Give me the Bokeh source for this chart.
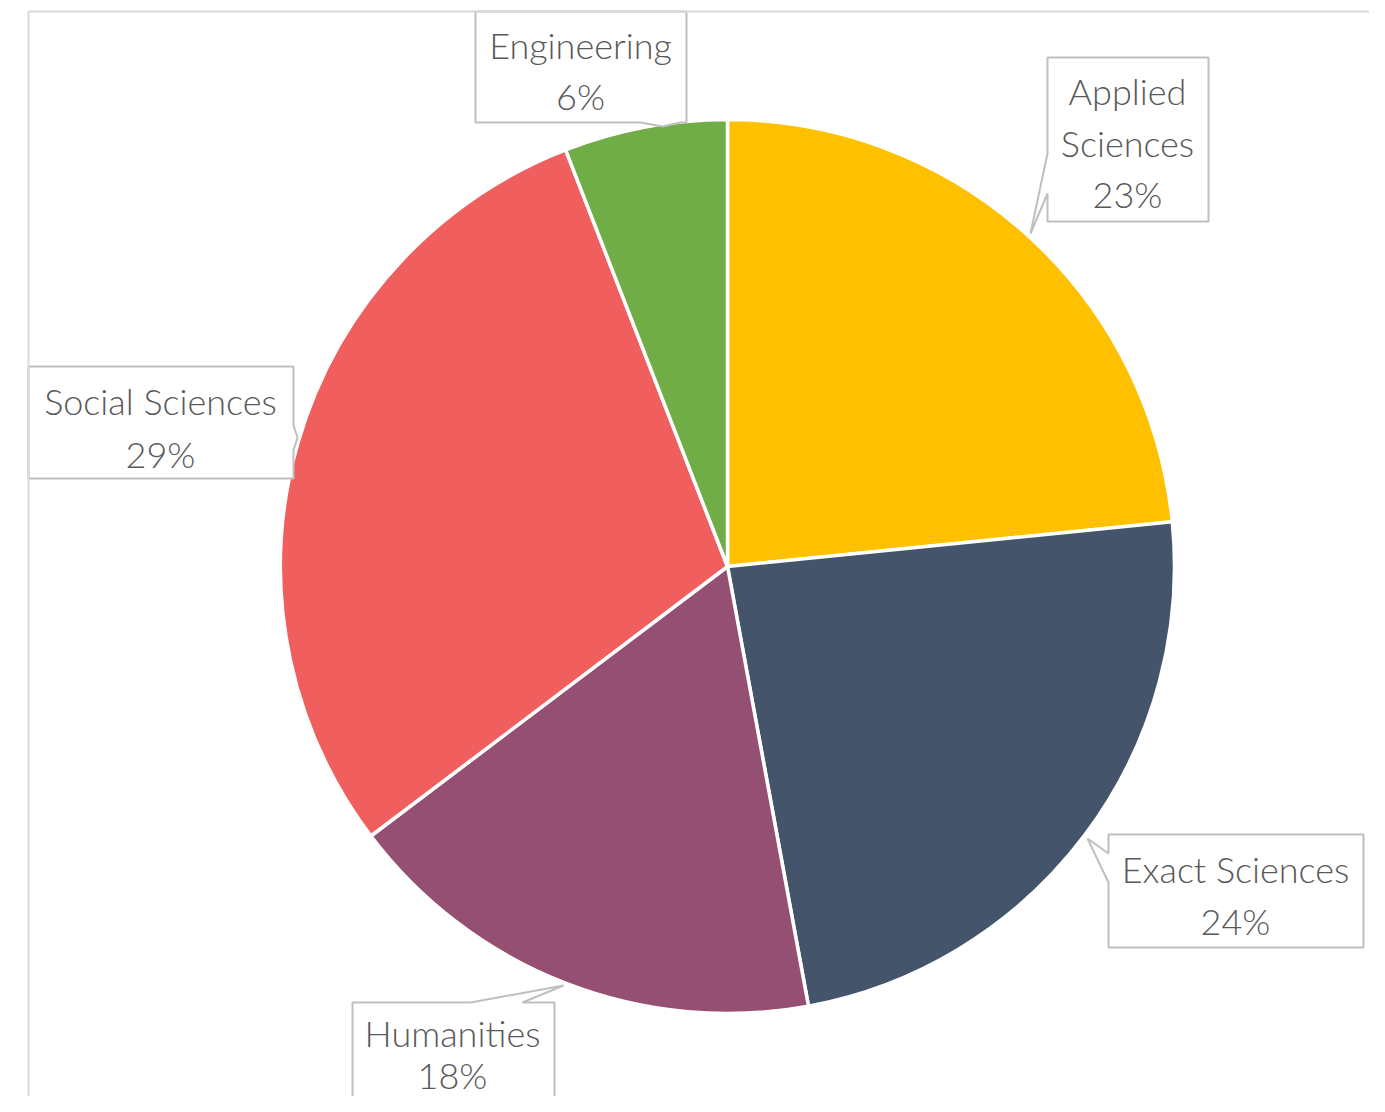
import math
from bokeh.plotting import figure
from bokeh.models import Range1d
from bokeh.embed import file_html
from bokeh.resources import INLINE
from bokeh.core.properties import value

# ---------------- data ----------------
categories = ["Applied Sciences", "Exact Sciences", "Humanities", "Social Sciences", "Engineering"]
label_names = ["Applied\nSciences", "Exact Sciences", "Humanities", "Social Sciences", "Engineering"]
shares = [23.4, 23.7, 17.6, 29.4, 5.9]

# ---------------- style ----------------
colors = ["#FFC000", "#44546A", "#954F72", "#F05F5E", "#70AD47"]
TEXT_COLOR = "#595959"
BOX_LINE = "#BFBFBF"
FRAME_LINE = "#D9D9D9"
FONT = "Lato Light, Lato"
FONT_SIZE = "36px"

# ---------------- layout (picture pixel coordinates) ----------------
W, H = 1369, 1096
CX, CY, R = 727, 566, 447

label_layout = {
    "Applied Sciences": dict(box=(1047, 57, 1208, 221), side="left", a=153, b=193, tip=(1030, 233), cx=1127, ys=[90, 142, 193]),
    "Exact Sciences": dict(box=(1108, 834, 1363, 947), side="left", a=853, b=882, tip=(1087, 838), cx=1235, ys=[868, 920]),
    "Humanities": dict(box=(352, 1002, 554, 1160), side="top", a=470, b=522, tip=(563, 985), cx=452, ys=[1032, 1074]),
    "Social Sciences": dict(box=(28, 366, 293, 478), side="right", a=425, b=450, tip=(297, 437), cx=160, ys=[400, 453]),
    "Engineering": dict(box=(475, 11, 686, 122), side="bottom", a=640, b=680, tip=(662, 126), cx=580, ys=[44, 95]),
}


def Y(py):
    return H - py


def callout_polygon(box, side, a, b, tip):
    L, T, Rr, B = box
    if side == "left":
        pts = [(L, T), (Rr, T), (Rr, B), (L, B), (L, b), tip, (L, a)]
    elif side == "right":
        pts = [(L, T), (Rr, T), (Rr, a), tip, (Rr, b), (Rr, B), (L, B)]
    elif side == "top":
        pts = [(L, T), (a, T), tip, (b, T), (Rr, T), (Rr, B), (L, B)]
    else:
        pts = [(L, T), (Rr, T), (Rr, B), (b, B), tip, (a, B), (L, B)]
    return [q[0] for q in pts], [Y(q[1]) for q in pts]


p = figure(width=W, height=H,
           x_range=Range1d(0, W), y_range=Range1d(0, H),
           output_backend="svg", toolbar_location=None, min_border=0,
           x_axis_type=None, y_axis_type=None, outline_line_color=None,
           background_fill_color="white", border_fill_color="white")
p.grid.visible = False

# pie wedges, clockwise from 12 o'clock
total = sum(shares)
starts, ends = [], []
cum = 0.0
for v in shares:
    starts.append(math.pi / 2 - 2 * math.pi * cum / total)
    cum += v
    ends.append(math.pi / 2 - 2 * math.pi * cum / total)

p.wedge(x=[CX] * len(shares), y=[Y(CY)] * len(shares), radius=R,
        start_angle=starts, end_angle=ends, direction="clock",
        fill_color=colors, line_color="white", line_width=3.5)

# callouts
xs_list, ys_list = [], []
tx, ty, tt = [], [], []
for cat, name, v in zip(categories, label_names, shares):
    lay = label_layout[cat]
    xs, ys = callout_polygon(lay["box"], lay["side"], lay["a"], lay["b"], lay["tip"])
    xs_list.append(xs)
    ys_list.append(ys)
    lines = name.split("\n") + [f"{round(v)}%"]
    for line, yy in zip(lines, lay["ys"]):
        tx.append(lay["cx"])
        ty.append(Y(yy))
        tt.append(line)

p.patches(xs=xs_list, ys=ys_list, fill_color="white", line_color=BOX_LINE, line_width=2)
p.text(x=tx, y=ty, text=tt, text_font=value(FONT), text_font_size=FONT_SIZE,
       text_color=TEXT_COLOR, text_align="center", text_baseline="middle")

# chart-area frame (top and left edges visible)
p.line(x=[28, 28], y=[Y(11), Y(1120)], line_color=FRAME_LINE, line_width=2)
p.line(x=[28, 1390], y=[Y(11), Y(11)], line_color=FRAME_LINE, line_width=2)

open("out.html", "w").write(file_html(p, INLINE))
